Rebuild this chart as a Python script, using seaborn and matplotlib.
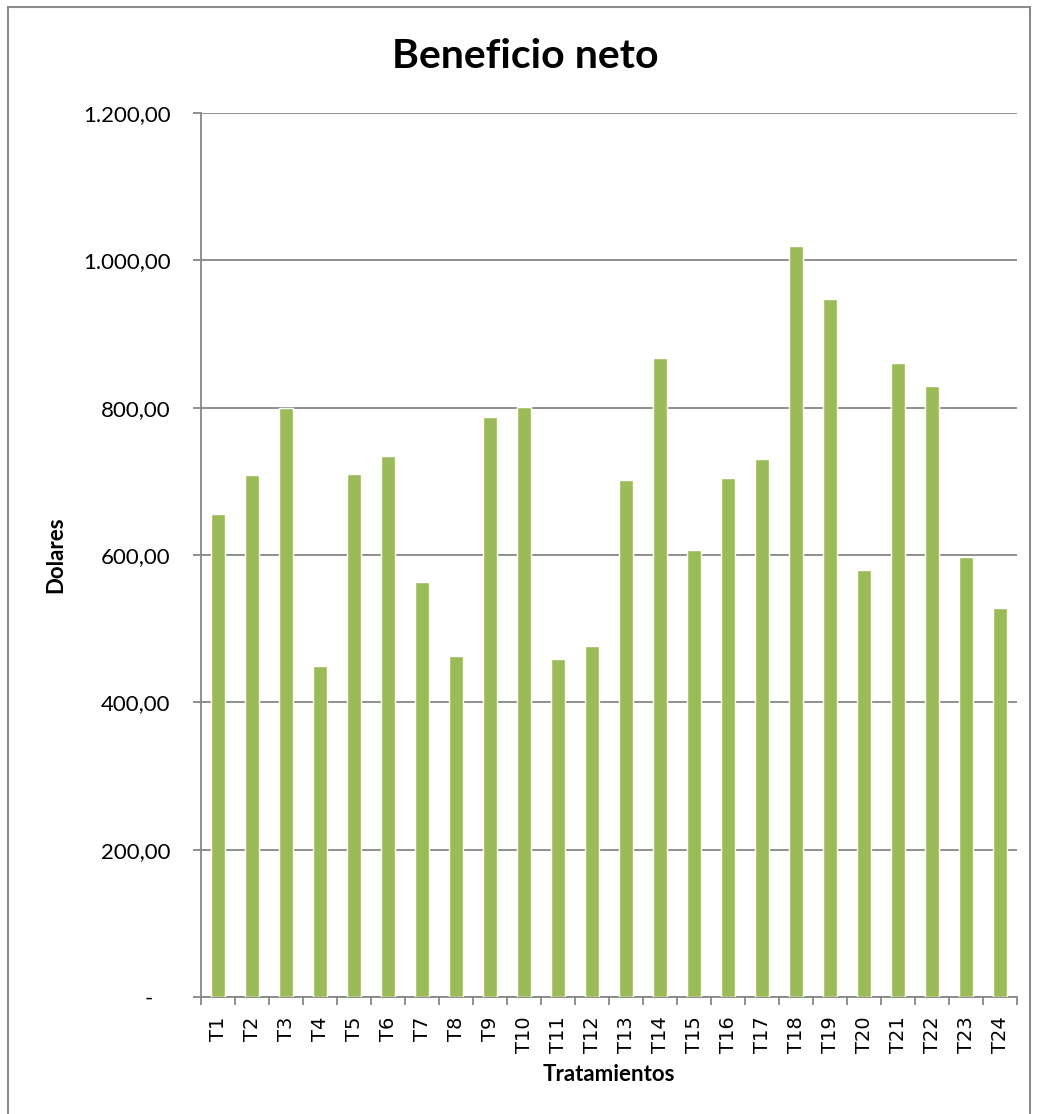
import numpy as np
import pandas as pd
import seaborn as sns
import matplotlib.pyplot as plt
from matplotlib.patches import Rectangle
from matplotlib.ticker import FuncFormatter, FixedLocator

# ---------- Data ----------
tratamientos = [f"T{i}" for i in range(1, 25)]
beneficio = [656, 709, 800, 449, 710, 735, 564, 463, 788, 801, 459, 476,
             702, 867, 607, 704, 730, 1019, 948, 580, 861, 829, 597, 528]
y_ticks = [0, 200, 400, 600, 800, 1000, 1200]

df = pd.DataFrame({"Tratamientos": tratamientos, "Dolares": beneficio})

GREEN = "#9BBB59"
GRAY = "#878787"

sns.set_theme(style="white")
plt.rcParams["font.family"] = ["Lato", "DejaVu Sans"]
plt.rcParams["text.color"] = "black"
plt.rcParams["axes.labelcolor"] = "black"

W, H = 1039, 1114
fig = plt.figure(figsize=(W / 100, H / 100), dpi=100)
ax = fig.add_axes([201 / W, 1 - 997 / H, 816 / W, 884 / H])

sns.barplot(data=df, x="Tratamientos", y="Dolares", color=GREEN,
            width=0.4, saturation=1, ax=ax, zorder=3)

ax.set_xlim(-0.5, 23.5)
ax.set_ylim(0, 1200)
ax.set_yticks(y_ticks)


def fmt(v, pos):
    if v == 0:
        return "-   "
    s = f"{v:,.2f}"
    return s.replace(",", "X").replace(".", ",").replace("X", ".")


ax.yaxis.set_major_formatter(FuncFormatter(fmt))
ax.grid(axis="y", color=GRAY, linewidth=1.3, zorder=0)
ax.set_axisbelow(True)

for side in ["top", "right"]:
    ax.spines[side].set_visible(False)
for side in ["left", "bottom"]:
    ax.spines[side].set_color(GRAY)
    ax.spines[side].set_linewidth(1.3)

ax.tick_params(axis="y", which="major", left=True, length=6, width=1.3,
               color=GRAY, pad=16, labelsize=16, labelcolor="black")
ax.xaxis.set_minor_locator(FixedLocator(np.arange(-0.5, 24, 1)))
ax.tick_params(axis="x", which="major", bottom=False, length=0, pad=14,
               labelcolor="black", labelsize=14, labelrotation=90,
               labelfontfamily="DejaVu Sans")
ax.tick_params(axis="x", which="minor", bottom=True, length=6, width=1.3,
               color=GRAY)

ax.set_xlabel("Tratamientos", fontsize=16, fontweight="bold", labelpad=8)
ax.set_ylabel("Dolares", fontsize=16, fontweight="bold", labelpad=12)

fig.text(525 / W, 1 - 56 / H, "Beneficio neto", ha="center", va="center",
         fontsize=29.5, fontweight="bold", color="black")

# outer chart frame
fig.patches.append(Rectangle((8 / W, -0.05), 1022 / W, 1.05 - 7 / H,
                             transform=fig.transFigure, fill=False,
                             edgecolor="#8c8c8c", linewidth=1.5))

plt.savefig("out.png", dpi=100)
